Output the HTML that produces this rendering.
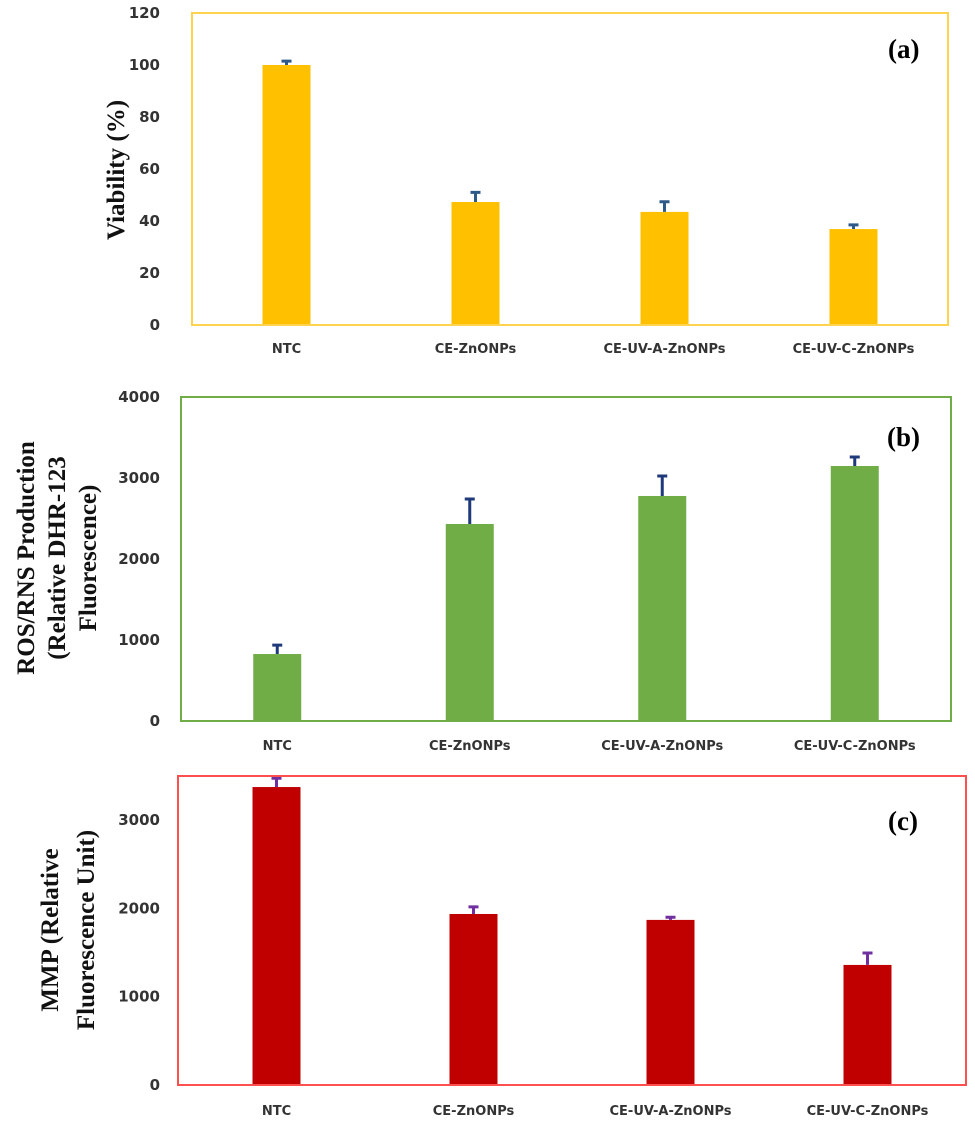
<!DOCTYPE html>
<html><head><meta charset="utf-8"><style>
html,body{margin:0;padding:0;background:#fff;width:975px;height:1127px;overflow:hidden}
svg{display:block}
.tick{font-family:"DejaVu Sans","Liberation Sans",sans-serif;font-size:15px;font-weight:bold;fill:#333}
.cat{font-family:"DejaVu Sans","Liberation Sans",sans-serif;font-size:13px;font-weight:bold;fill:#333}
.ttl{font-family:"Liberation Serif",serif;font-size:25px;font-weight:bold;fill:#111}
.pl{font-family:"Liberation Serif",serif;font-size:27px;font-weight:bold;fill:#000}
</style></head><body>
<svg id="fig" width="975" height="1127" xmlns="http://www.w3.org/2000/svg"></svg>
<script>
const categories = ["NTC","CE-ZnONPs","CE-UV-A-ZnONPs","CE-UV-C-ZnONPs"];
const viability = [100, 47.3, 43.5, 36.9];
const viabilityErr = [1.5, 3.7, 3.9, 1.6];
const viabilityTicks = [0,20,40,60,80,100,120];
const ros = [827, 2432, 2778, 3148];
const rosErr = [110, 308, 247, 112];
const rosTicks = [0,1000,2000,3000,4000];
const mmp = [3375, 1937, 1870, 1360];
const mmpErr = [100, 80, 30, 135];
const mmpTicks = [0,1000,2000,3000];

const NS="http://www.w3.org/2000/svg";
const svg=document.getElementById('fig');
function mk(tag,attrs,parent){const e=document.createElementNS(NS,tag);for(const k in attrs)e.setAttribute(k,attrs[k]);(parent||svg).appendChild(e);return e;}

function panel(cfg){
  const g=mk('g',{});
  
  
  const {x0,x1,y0,y1,max}=cfg;
  const yS=v=>y1-(v/max)*(y1-y0);
  const step=(x1-x0)/cfg.cats.length;
  const xC=i=>x0+step*(i+0.5);
  cfg.ticks.forEach(t=>{
    const tx=mk('text',{x:160,y:yS(t)+5,'text-anchor':'end',class:'tick'},g);
    tx.textContent=t;
    
    
  });
  cfg.vals.forEach((v,i)=>{
    const r=mk('rect',{x:xC(i)-24,y:yS(v),width:48,height:y1-yS(v),fill:cfg.color},g);
    
    
    const et=yS(v+cfg.err[i]);
    const e=mk('path',{d:`M${xC(i)} ${yS(v)} V${et} M${xC(i)-5} ${et} H${xC(i)+5}`,stroke:cfg.ecol,'stroke-width':3,fill:'none'},g);
    
    
    const c=mk('text',{x:xC(i),y:cfg.catY,'text-anchor':'middle',class:'cat'},g);
    c.textContent=cfg.cats[i];
    
    
  });
  const b=mk('rect',{x:x0,y:y0,width:x1-x0,height:y1-y0,fill:'none',stroke:cfg.frame,'stroke-width':2},g);
  
  
  const p=mk('text',{x:cfg.plx,y:cfg.ply,class:'pl'},g);
  p.textContent=cfg.label;
  
  
  const tg=mk('text',{class:'ttl','text-anchor':'middle',transform:`translate(${cfg.tx},${cfg.ty}) rotate(-90)`},g);
  
  
  cfg.title.forEach((l,k)=>{const s=mk('tspan',{x:0,dy:k===0?0:cfg.lh},tg);s.textContent=l;});
}

panel({name:'viability-panel',x0:192,x1:948,y0:13,y1:325,max:120,vals:viability,err:viabilityErr,ticks:viabilityTicks,cats:categories,color:'#ffc000',ecol:'#2e5a8a',frame:'#ffd34d',catY:353,label:'(a)',plx:888,ply:58,title:['Viability (%)'],tx:124,ty:170,lh:0});
panel({name:'ros-panel',x0:181,x1:951,y0:397,y1:721,max:4000,vals:ros,err:rosErr,ticks:rosTicks,cats:categories,color:'#70ad47',ecol:'#1f3a7a',frame:'#70ad47',catY:750,label:'(b)',plx:887,ply:446,title:['ROS/RNS Production','(Relative DHR-123','Fluorescence)'],tx:34,ty:558,lh:31});
panel({name:'mmp-panel',x0:178,x1:966,y0:776,y1:1085,max:3500,vals:mmp,err:mmpErr,ticks:mmpTicks,cats:categories,color:'#c00000',ecol:'#7030a0',frame:'#ff5050',catY:1115,label:'(c)',plx:888,ply:830,title:['MMP (Relative','Fluorescence Unit)'],tx:58,ty:930,lh:36});
</script>
</body></html>
